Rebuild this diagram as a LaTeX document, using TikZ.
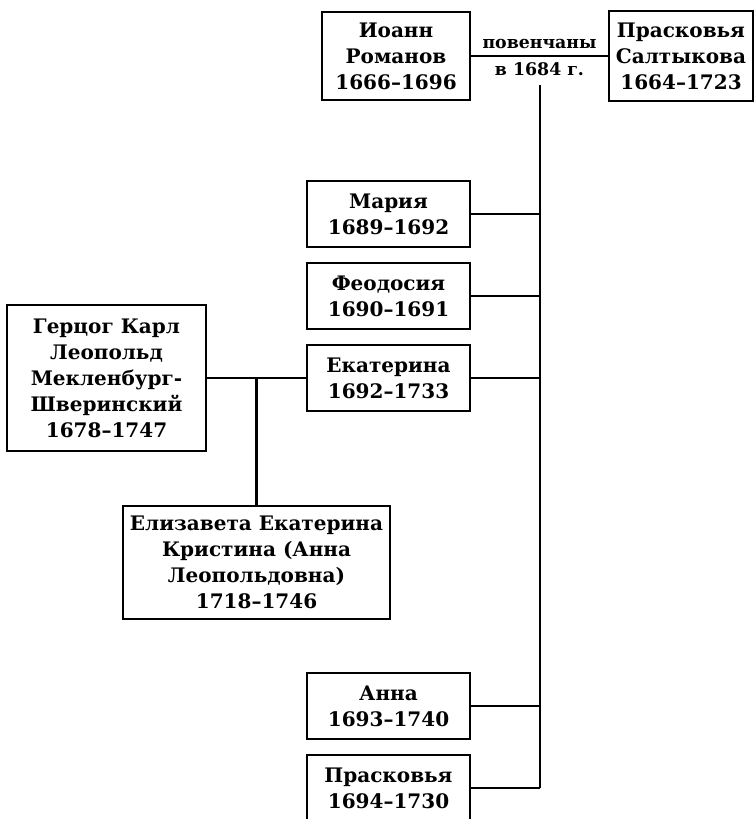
\documentclass[tikz,border=0pt]{standalone}
\usepackage{fontspec}
\setmainfont{DejaVu Serif}
\begin{document}
\begin{tikzpicture}[x=0.75pt,y=-0.75pt,
    person/.style={draw,line width=1.5pt,align=center,inner sep=0pt,
      font=\fontsize{15}{19.5}\selectfont\bfseries},
    daughter/.style={person,minimum width=122pt,minimum height=49pt},
    link/.style={line width=1.6pt}]
  \useasboundingbox (0,0) rectangle (756,819);

  \node[person,minimum width=111pt,minimum height=66pt] (ioann) at (396,56)
    {Иоанн\\Романов\\1666–1696};
  \node[person,minimum width=108pt,minimum height=67pt] (praskovya) at (681,56)
    {Прасковья\\Салтыкова\\1664–1723};
  \node[daughter] (maria) at (388.5,214) {Мария\\1689–1692};
  \node[daughter] (feodosia) at (388.5,296) {Феодосия\\1690–1691};
  \node[daughter] (ekaterina) at (388.5,378) {Екатерина\\1692–1733};
  \node[daughter] (anna) at (388.5,706) {Анна\\1693–1740};
  \node[daughter] (praskovyaII) at (388.5,788) {Прасковья\\1694–1730};
  \node[person,minimum width=149pt,minimum height=110pt] (karl) at (106.5,378)
    {Герцог Карл\\Леопольд\\Мекленбург-\\Шверинский\\1678–1747};
  \node[person,minimum width=200pt,minimum height=85pt] (elizaveta) at (256.5,562.5)
    {Елизавета Екатерина\\Кристина (Анна\\Леопольдовна)\\1718–1746};

  \draw[link] (ioann.east) -- node[above=1pt,font=\fontsize{13}{15}\selectfont\bfseries] (wed) {повенчаны}
    node[below=1pt,font=\fontsize{13}{15}\selectfont\bfseries] {в 1684 г.} (praskovya.west);
  \coordinate (trunk) at (540,85);
  \draw[link] (trunk) -- (trunk |- praskovyaII.east);
  \foreach \c in {maria,feodosia,ekaterina,anna,praskovyaII}
    \draw[link] (\c.east) -- (\c.east -| trunk);
  \draw[link] (karl.east) -- (ekaterina.west);
  \draw[link] (karl.east -| elizaveta.north) -- (elizaveta.north);
\end{tikzpicture}
\end{document}
